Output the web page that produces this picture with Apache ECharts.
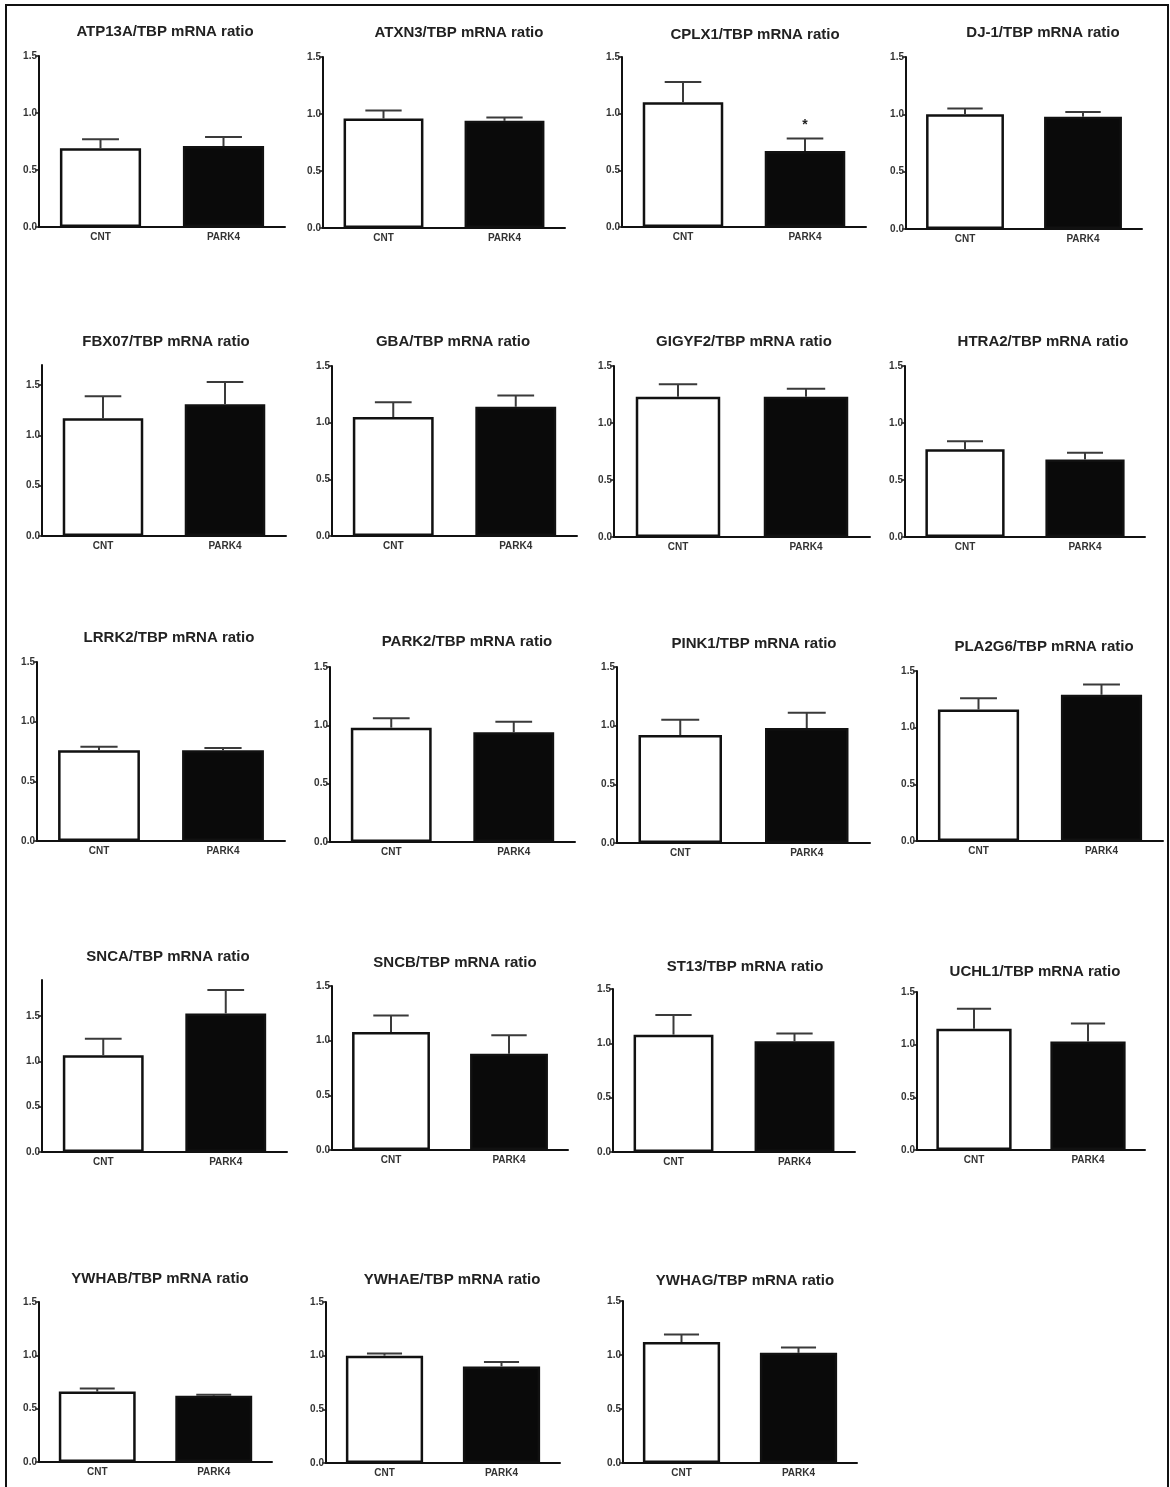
<!DOCTYPE html>
<html>
<head>
<meta charset="utf-8">
<script src="https://cdn.jsdelivr.net/npm/echarts@6/dist/echarts.min.js"></script>
<style>
html,body{margin:0;padding:0;background:#fff;}
#chart{width:1170px;height:1487px;}
</style>
</head>
<body>
<div id="chart"></div>
<script>
// ---- data ----
const titles = [
  'ATP13A/TBP mRNA ratio','ATXN3/TBP mRNA ratio','CPLX1/TBP mRNA ratio','DJ-1/TBP mRNA ratio',
  'FBX07/TBP mRNA ratio','GBA/TBP mRNA ratio','GIGYF2/TBP mRNA ratio','HTRA2/TBP mRNA ratio',
  'LRRK2/TBP mRNA ratio','PARK2/TBP mRNA ratio','PINK1/TBP mRNA ratio','PLA2G6/TBP mRNA ratio',
  'SNCA/TBP mRNA ratio','SNCB/TBP mRNA ratio','ST13/TBP mRNA ratio','UCHL1/TBP mRNA ratio',
  'YWHAB/TBP mRNA ratio','YWHAE/TBP mRNA ratio','YWHAG/TBP mRNA ratio'
];
const groups = ['CNT', 'PARK4'];
const cntMean  = [0.69,0.96,1.10,1.00, 1.17,1.05,1.23,0.77, 0.76,0.98,0.92,1.16, 1.07,1.08,1.08,1.15, 0.66,1.00,1.12];
const cntUpper = [0.77,1.03,1.28,1.05, 1.39,1.18,1.34,0.84, 0.79,1.06,1.05,1.26, 1.25,1.23,1.26,1.34, 0.69,1.02,1.19];
const parkMean = [0.71,0.94,0.67,0.98, 1.31,1.14,1.23,0.68, 0.76,0.94,0.98,1.29, 1.53,0.88,1.02,1.03, 0.62,0.90,1.02];
const parkUpper= [0.79,0.97,0.78,1.02, 1.53,1.24,1.30,0.74, 0.78,1.03,1.11,1.38, 1.79,1.05,1.09,1.20, 0.63,0.94,1.07];
const parkSig  = ['','','*','', '','','','', '','','','', '','','','', '','',''];
const axisMax  = [1.5,1.5,1.5,1.5, 1.7,1.5,1.5,1.5, 1.5,1.5,1.5,1.5, 1.9,1.5,1.5,1.5, 1.5,1.5,1.5];
const yTickValues = [0, 0.5, 1.0, 1.5];

// ---- layout: [axisX, xEnd, yTop, yZero, titleX, titleY] ----
const layout = [
  [39,285,56,227,160,28],[323,565,57,228,454,29],[622,866,57,227,750,31],[906,1142,57,229,1038,29],
  [42,286,365,536,161,338],[332,577,366,536,448,338],[614,870,366,537,739,338],[905,1145,366,537,1038,338],
  [37,285,662,841,164,634],[330,575,667,842,462,638],[617,870,667,843,749,640],[917,1163,671,841,1039,643],
  [42,287,980,1152,163,953],[332,568,986,1150,450,959],[613,855,989,1152,740,963],[917,1145,992,1150,1030,968],
  [39,272,1302,1462,155,1275],[326,560,1302,1463,447,1276],[623,857,1301,1463,740,1277]
];

const FONT = '"Liberation Sans", Arial, sans-serif';
const grids = [], xAxes = [], yAxes = [], series = [], titleArr = [];

titles.forEach((t, i) => {
  const [ax, xe, yt, y0, tx, ty] = layout[i];
  grids.push({left: ax, top: yt, width: xe - ax, height: y0 - yt, containLabel: false});
  titleArr.push({
    text: t, left: tx, top: ty - 9, textAlign: 'center',
    textStyle: {fontFamily: FONT, fontWeight: 'bold', fontSize: 15, color: '#222'}
  });
  xAxes.push({
    type: 'category', gridIndex: i, data: groups,
    axisLine: {lineStyle: {color: '#111', width: 2}},
    axisTick: {alignWithLabel: true, length: 4, lineStyle: {color: '#111', width: 1.5}},
    axisLabel: {fontFamily: FONT, fontWeight: 'bold', fontSize: 10, color: '#333', margin: 5}
  });
  yAxes.push({
    type: 'value', gridIndex: i, min: 0, max: axisMax[i], interval: 0.5,
    axisLine: {show: true, lineStyle: {color: '#111', width: 2}},
    axisTick: {show: true, length: 4, lineStyle: {color: '#111', width: 1.5}, customValues: yTickValues},
    axisLabel: {fontFamily: FONT, fontWeight: 'bold', fontSize: 10, color: '#333', margin: 2,
      customValues: yTickValues, formatter: v => v.toFixed(1)},
    splitLine: {show: false}
  });
  series.push({
    type: 'bar', xAxisIndex: i, yAxisIndex: i, barWidth: '66%',
    data: [
      {value: cntMean[i], itemStyle: {color: '#fff', borderColor: '#111', borderWidth: 2.5}},
      {value: parkMean[i], itemStyle: {color: '#0a0a0a', borderColor: '#111', borderWidth: 2.5}}
    ],
    silent: true, animation: false
  });
  series.push({
    type: 'custom', xAxisIndex: i, yAxisIndex: i, z: 5, silent: true, animation: false,
    data: [[0, cntMean[i], cntUpper[i]], [1, parkMean[i], parkUpper[i]]],
    renderItem: (params, api) => {
      const x = api.value(0);
      const base = api.coord([x, api.value(1)]);
      const top = api.coord([x, api.value(2)]);
      const band = api.size([1, 0])[0];
      const half = band * 0.15;
      const style = {stroke: '#3a3a3a', lineWidth: 2};
      const children = [
        {type: 'line', shape: {x1: base[0], y1: base[1], x2: top[0], y2: top[1]}, style},
        {type: 'line', shape: {x1: top[0] - half, y1: top[1], x2: top[0] + half, y2: top[1]}, style}
      ];
      const sig = params.dataIndex === 1 ? parkSig[i] : '';
      if (sig) {
        children.push({type: 'text', x: top[0], y: top[1] - 6,
          style: {text: sig, fontFamily: FONT, fontWeight: 'bold', fontSize: 14, fill: '#222',
            textAlign: 'center', textVerticalAlign: 'bottom'}});
      }
      return {type: 'group', children};
    }
  });
});

const chart = echarts.init(document.getElementById('chart'), null, {renderer: 'canvas'});
chart.setOption({
  animation: false,
  backgroundColor: '#fff',
  title: titleArr,
  grid: grids,
  xAxis: xAxes,
  yAxis: yAxes,
  series: series,
  graphic: [{
    type: 'rect', z: 100, silent: true,
    shape: {x: 6, y: 5, width: 1162, height: 1500},
    style: {fill: 'none', stroke: '#111', lineWidth: 2}
  }]
});
</script>
</body>
</html>
